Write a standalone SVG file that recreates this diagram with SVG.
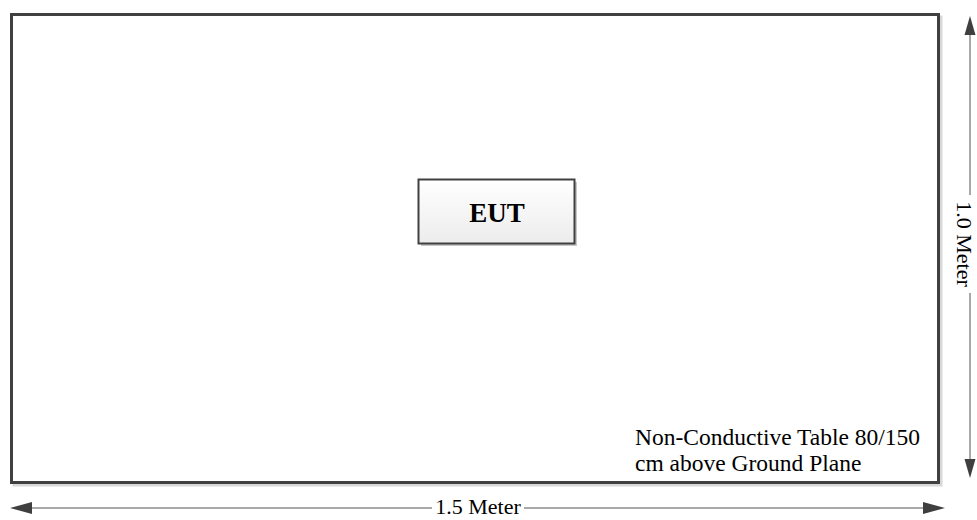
<svg xmlns="http://www.w3.org/2000/svg" width="977" height="520" viewBox="0 0 977 520">
<style>
.t{font-family:"Liberation Serif","Times New Roman",serif;fill:#000}
.dim{stroke:#8c8c8c;stroke-width:1.5;fill:none}
.ah{fill:#3f3f3f}
</style>
<defs>
<linearGradient id="g" x1="0" y1="0" x2="0" y2="1"><stop offset="0" stop-color="#ffffff"/><stop offset="1" stop-color="#ececec"/></linearGradient>
</defs>
<rect width="977" height="520" fill="#fff"/>
<g id="table">
<rect x="14" y="17" width="927" height="468" fill="none" stroke="#d8d8d8" stroke-width="3"/>
<rect x="11.5" y="14.5" width="927" height="468" fill="#fff" stroke="#404040" stroke-width="3"/>
<text class="t" x="635" y="445" font-size="23.5">Non-Conductive Table 80/150</text>
<text class="t" x="635" y="471" font-size="23.5">cm above Ground Plane</text>
</g>
<g id="eut">
<rect x="421" y="182" width="156" height="64" fill="#c8c8c8"/>
<rect x="418.5" y="179.5" width="156" height="64" fill="url(#g)" stroke="#404040" stroke-width="2"/>
<text class="t" x="497" y="222" font-size="27" font-weight="bold" text-anchor="middle">EUT</text>
</g>
<g id="connectors">
<line class="dim" x1="28" y1="508" x2="432" y2="508"/>
<line class="dim" x1="524" y1="508" x2="928" y2="508"/>
<polygon class="ah" points="10,508 32,502 32,514"/>
<polygon class="ah" points="945,508 923,502 923,514"/>
<text class="t" x="478" y="514" font-size="22" text-anchor="middle">1.5 Meter</text>
<line class="dim" x1="970" y1="32" x2="970" y2="195"/>
<line class="dim" x1="970" y1="293" x2="970" y2="462"/>
<polygon class="ah" points="970,16 964.5,35 975.5,35"/>
<polygon class="ah" points="970,478 964.5,459 975.5,459"/>
<text class="t" transform="translate(957,244) rotate(90)" font-size="22" text-anchor="middle">1.0 Meter</text>
</g>
</svg>
